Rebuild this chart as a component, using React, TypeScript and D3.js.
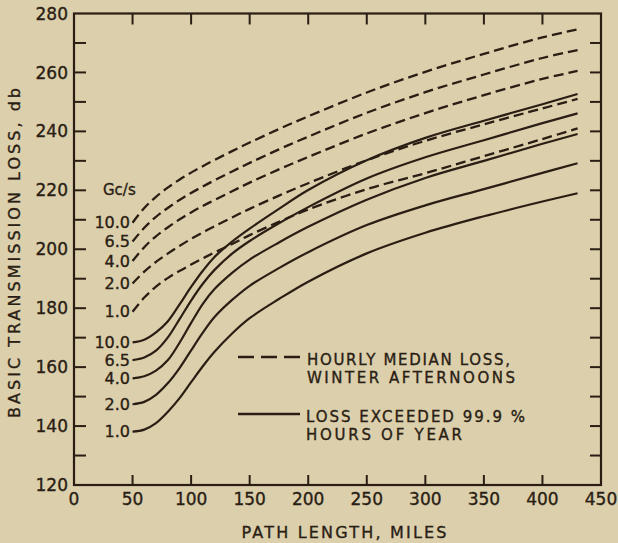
import React from "react";
import * as d3 from "d3";

const miles = [50, 60, 70, 80, 90, 100, 110, 120, 135, 150, 175, 200, 250, 300, 350, 400, 430];

const freqLabels = ["10.0", "6.5", "4.0", "2.0", "1.0"];

// Hourly median loss, winter afternoons (dashed)
const median10 = [209.0, 214.0, 217.8, 220.9, 223.6, 226.0, 228.2, 230.3, 233.3, 236.2, 240.8, 245.1, 253.2, 260.2, 266.3, 271.9, 274.6];
const median65 = [202.6, 207.3, 211.0, 214.0, 216.7, 219.1, 221.3, 223.4, 226.4, 229.3, 233.9, 238.2, 246.3, 253.3, 259.3, 264.9, 267.6];
const median4 = [196.0, 200.7, 204.4, 207.4, 210.1, 212.5, 214.7, 216.7, 219.7, 222.6, 227.1, 231.3, 239.3, 246.2, 252.3, 257.8, 260.5];
const median2 = [188.4, 192.4, 195.7, 198.5, 201.1, 203.5, 205.7, 207.8, 210.8, 213.7, 218.2, 222.4, 230.2, 236.8, 242.4, 247.8, 251.0];
const median1 = [178.8, 183.6, 187.3, 190.2, 192.6, 194.8, 196.9, 198.9, 201.8, 204.8, 209.3, 213.5, 220.4, 225.8, 231.6, 237.4, 241.0];

// Loss exceeded 99.9% hours of year (solid)
const exceed10 = [168.4, 169.3, 171.8, 175.5, 181.2, 187.2, 192.7, 197.4, 202.6, 207.0, 213.7, 220.1, 230.2, 237.8, 243.6, 249.2, 252.7];
const exceed65 = [162.4, 163.3, 165.6, 170.0, 176.2, 182.6, 188.3, 193.0, 198.5, 202.8, 208.8, 214.3, 224.0, 231.2, 237.0, 242.8, 246.1];
const exceed4 = [156.2, 156.9, 158.8, 162.3, 168.2, 175.0, 181.5, 186.5, 192.0, 196.5, 202.3, 207.6, 216.8, 224.2, 230.0, 235.8, 239.1];
const exceed2 = [147.4, 148.2, 150.6, 154.5, 159.6, 165.7, 171.7, 177.0, 182.8, 187.6, 193.6, 199.0, 208.2, 214.9, 220.4, 225.9, 229.2];
const exceed1 = [138.1, 138.8, 141.0, 144.8, 149.4, 154.9, 160.3, 165.2, 171.4, 176.6, 183.1, 189.0, 198.6, 205.6, 211.2, 216.2, 219.0];

const xTicks = [0, 50, 100, 150, 200, 250, 300, 350, 400, 450];
const yTicks = [120, 140, 160, 180, 200, 220, 240, 260, 280];
const yMinor = [130, 140, 150, 160, 170, 180, 190, 200, 210, 220, 230, 240, 250, 260, 270];
const xInner = [50, 100, 150, 200, 250, 300, 350, 400];

const W = 618;
const H = 543;
const BG = "#dccfac";
const INK = "#2a1e14";
const FONT = "DejaVu Sans, Verdana, sans-serif";

export default function App() {
  const x = d3.scaleLinear().domain([0, 450]).range([74, 601]);
  const y = d3.scaleLinear().domain([120, 280]).range([485, 13.5]);

  const line = d3
    .line<number>()
    .x((_, i) => x(miles[i]))
    .y((v) => y(v))
    .curve(d3.curveCatmullRom.alpha(0.5));

  const dashed = [median10, median65, median4, median2, median1];
  const solid = [exceed10, exceed65, exceed4, exceed2, exceed1];

  const x0 = x.range()[0];
  const x1 = x.range()[1];
  const yTop = y.range()[1];
  const yBot = y.range()[0];

  const txt = { fill: INK, stroke: INK, strokeWidth: 0.35 } as const;

  return (
    <svg
      width={W}
      height={H}
      style={{ position: "absolute", left: 0, top: 0, display: "block" }}
      fontFamily={FONT}
    >
      <rect x={0} y={0} width={W} height={H} fill={BG} />

      {/* frame */}
      <rect x={x0} y={yTop} width={x1 - x0} height={yBot - yTop} fill="none" stroke={INK} strokeWidth={2.2} />

      {/* left & right ticks */}
      {yMinor.map((v) => (
        <g key={"yt" + v}>
          <line x1={x0} x2={x0 + 12} y1={y(v)} y2={y(v)} stroke={INK} strokeWidth={2} />
          <line x1={x1} x2={x1 - 11} y1={y(v)} y2={y(v)} stroke={INK} strokeWidth={2} />
        </g>
      ))}
      {/* top & bottom ticks */}
      {xInner.map((v) => (
        <g key={"xt" + v}>
          <line x1={x(v)} x2={x(v)} y1={yTop} y2={yTop + 11} stroke={INK} strokeWidth={2} />
          <line x1={x(v)} x2={x(v)} y1={yBot} y2={yBot - 10} stroke={INK} strokeWidth={2} />
        </g>
      ))}

      {/* y tick labels */}
      {yTicks.map((v) => (
        <text key={"yl" + v} x={68} y={y(v)} dy="0.36em" textAnchor="end" fontSize={17} {...txt}>
          {v}
        </text>
      ))}
      {/* x tick labels */}
      {xTicks.map((v) => (
        <text key={"xl" + v} x={x(v)} y={505} textAnchor="middle" fontSize={17} {...txt}>
          {v}
        </text>
      ))}

      {/* axis titles */}
      <text x={344} y={538} textAnchor="middle" fontSize={16} {...txt} textLength={205} lengthAdjust="spacing">
        PATH LENGTH, MILES
      </text>
      <text
        transform={`translate(20,253) rotate(-90)`}
        textAnchor="middle"
        fontSize={16}
        {...txt}
        textLength={330}
        lengthAdjust="spacing"
      >
        BASIC TRANSMISSION LOSS, db
      </text>

      {/* curves */}
      {dashed.map((s, i) => (
        <path key={"d" + i} d={line(s) || ""} fill="none" stroke={INK} strokeWidth={2.3} strokeDasharray="10,5" />
      ))}
      {solid.map((s, i) => (
        <path key={"s" + i} d={line(s) || ""} fill="none" stroke={INK} strokeWidth={2.2} />
      ))}

      {/* frequency labels */}
      <text x={103} y={195} fontSize={15} {...txt}>
        Gc/s
      </text>
      {dashed.map((s, i) => (
        <text key={"dl" + i} x={130} y={y(s[0])} dy="0.36em" textAnchor="end" fontSize={16} {...txt}>
          {freqLabels[i]}
        </text>
      ))}
      {solid.map((s, i) => (
        <text key={"sl" + i} x={130} y={y(s[0])} dy="0.36em" textAnchor="end" fontSize={16} {...txt}>
          {freqLabels[i]}
        </text>
      ))}

      {/* legend */}
      <line x1={238} x2={300} y1={357} y2={357} stroke={INK} strokeWidth={2.5} strokeDasharray="16,7" />
      <text x={307} y={365} fontSize={15} {...txt} textLength={203} lengthAdjust="spacing">
        HOURLY MEDIAN LOSS,
      </text>
      <text x={307} y={383} fontSize={15} {...txt} textLength={208} lengthAdjust="spacing">
        WINTER AFTERNOONS
      </text>
      <line x1={238} x2={300} y1={414} y2={414} stroke={INK} strokeWidth={2.5} />
      <text x={306} y={422} fontSize={15} {...txt} textLength={219} lengthAdjust="spacing">
        LOSS EXCEEDED 99.9 %
      </text>
      <text x={306} y={440} fontSize={15} {...txt} textLength={156} lengthAdjust="spacing">
        HOURS OF YEAR
      </text>
    </svg>
  );
}
